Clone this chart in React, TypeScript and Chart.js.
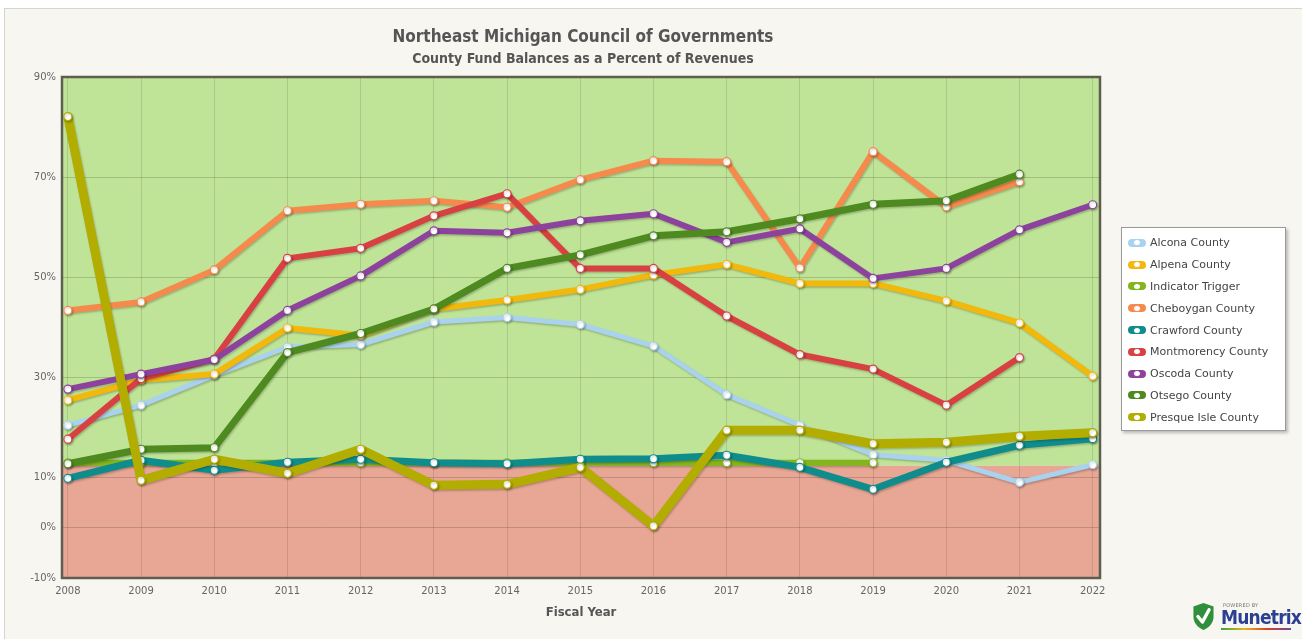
import React, { useEffect, useRef } from "react";
import { Chart, registerables } from "chart.js";

Chart.register(...registerables);

// ---------- data ----------
const years = [2008, 2009, 2010, 2011, 2012, 2013, 2014, 2015, 2016, 2017, 2018, 2019, 2020, 2021, 2022];
const yTickValues = [-10, 0, 10, 30, 50, 70, 90];
const triggerThreshold = 12.4;

const alcona = [20.5, 24.5, 30.5, 36.1, 36.6, 41.1, 42.0, 40.6, 36.3, 26.6, 20.5, 14.6, 13.5, 9.1, 12.6];
const alpena = [25.5, 29.5, 30.7, 39.9, 38.4, 43.7, 45.5, 47.6, 50.5, 52.6, 48.8, 48.8, 45.3, 40.9, 30.3];
const indicatorTrigger = [13, 13, 13, 13, 13, 13, 13, 13, 13, 13, 13, 13, null, null, null];
const cheboygan = [43.4, 45.1, 51.5, 63.3, 64.6, 65.3, 64.0, 69.5, 73.3, 73.1, 51.9, 75.1, 64.1, 69.1, null];
const crawford = [9.9, 13.5, 11.5, 13.1, 13.7, 13.0, 12.8, 13.7, 13.8, 14.5, 12.1, 7.7, 13.1, 16.5, 17.8];
const montmorency = [17.7, 29.8, 33.7, 53.8, 55.8, 62.3, 66.7, 51.8, 51.8, 42.3, 34.6, 31.7, 24.5, 34.0, null];
const oscoda = [27.7, 30.7, 33.6, 43.4, 50.3, 59.3, 58.9, 61.3, 62.7, 57.0, 59.7, 49.8, 51.8, 59.5, 64.5];
const otsego = [12.8, 15.7, 16.0, 35.0, 38.8, 43.7, 51.8, 54.5, 58.3, 59.1, 61.7, 64.6, 65.3, 70.6, null];
const presqueIsle = [82.1, 9.5, 13.7, 10.9, 15.7, 8.5, 8.7, 12.1, 0.4, 19.5, 19.5, 16.8, 17.1, 18.3, 19.0];

const titleText = "Northeast Michigan Council of Governments";
const subtitleText = "County Fund Balances as a Percent of Revenues";
const xAxisTitle = "Fiscal Year";

// ---------- styles ----------
const SERIES = [
  { label: "Alcona County", data: alcona, color: "#a9d2ef", width: 5 },
  { label: "Alpena County", data: alpena, color: "#f2b80c", width: 6 },
  { label: "Indicator Trigger", data: indicatorTrigger, color: "#83b51c", width: 6 },
  { label: "Cheboygan County", data: cheboygan, color: "#f68a4c", width: 6 },
  { label: "Crawford County", data: crawford, color: "#0f8d8d", width: 7 },
  { label: "Montmorency County", data: montmorency, color: "#d84042", width: 6 },
  { label: "Oscoda County", data: oscoda, color: "#8d439e", width: 6 },
  { label: "Otsego County", data: otsego, color: "#4e8a1f", width: 7 },
  { label: "Presque Isle County", data: presqueIsle, color: "#b2ad00", width: 9 },
];

const NARROW = "'Liberation Sans Narrow', 'DejaVu Sans Condensed', 'Roboto', sans-serif";
const SANS = "'DejaVu Sans', Verdana, sans-serif";

const bandsPlugin = {
  id: "bands",
  beforeDraw(chart: any) {
    const { ctx, chartArea, scales } = chart;
    const { left, right, top, bottom } = chartArea;
    const yT = scales.y.getPixelForValue(triggerThreshold);
    ctx.save();
    ctx.fillStyle = "#bfe497";
    ctx.fillRect(left, top, right - left, yT - top);
    ctx.fillStyle = "#e8a694";
    ctx.fillRect(left, yT, right - left, bottom - yT);
    ctx.restore();
  },
  beforeDatasetsDraw(chart: any) {
    const { ctx, chartArea } = chart;
    const { left, right, top, bottom } = chartArea;
    ctx.save();
    ctx.strokeStyle = "#5d5d52";
    ctx.lineWidth = 2.5;
    ctx.strokeRect(left, top, right - left, bottom - top);
    ctx.restore();
  },
  beforeDatasetDraw(chart: any) {
    const ctx = chart.ctx;
    ctx.save();
    ctx.shadowColor = "rgba(0,0,0,0.22)";
    ctx.shadowOffsetX = 1;
    ctx.shadowOffsetY = 1.5;
    ctx.shadowBlur = 2;
  },
  afterDatasetDraw(chart: any) {
    chart.ctx.restore();
  },
};

function ChartCanvas() {
  const ref = useRef<HTMLCanvasElement | null>(null);
  useEffect(() => {
    if (!ref.current) return;
    const n = SERIES.length;
    const chart = new Chart(ref.current, {
      type: "line",
      data: {
        datasets: SERIES.map((s, i) => ({
          label: s.label,
          data: years.map((yr, j) => ({ x: yr, y: s.data[j] })),
          borderColor: s.color,
          backgroundColor: s.color,
          borderWidth: s.width,
          borderCapStyle: "round",
          borderJoinStyle: "round",
          tension: 0,
          pointRadius: 4,
          pointBackgroundColor: "#ffffff",
          pointBorderColor: s.color,
          pointBorderWidth: 1.2,
          fill: false,
          order: n - 1 - i,
        })),
      },
      options: {
        animation: false,
        responsive: false,
        devicePixelRatio: 1,
        layout: { padding: { top: 77, right: 202, bottom: 0, left: 0 } },
        plugins: {
          legend: { display: false },
          tooltip: { enabled: false },
        },
        scales: {
          x: {
            type: "linear",
            min: 2007.92,
            max: 2022.1,
            afterBuildTicks: (axis: any) => {
              axis.ticks = years.map((v) => ({ value: v }));
            },
            afterFit: (s: any) => {
              s.height = 61;
            },
            ticks: {
              autoSkip: false,
              maxRotation: 0,
              padding: 7,
              color: "#666",
              font: { family: SANS, size: 10 },
              callback: (v: any) => String(v),
            },
            grid: { color: "rgba(40,40,20,0.14)", drawTicks: false, lineWidth: 1 },
            border: { display: false },
            title: {
              display: true,
              text: xAxisTitle,
              color: "#555",
              font: { family: NARROW, size: 13, weight: "bold" },
              padding: { top: 0, bottom: 19 },
            },
          },
          y: {
            type: "linear",
            min: -10,
            max: 90,
            afterBuildTicks: (axis: any) => {
              axis.ticks = yTickValues.map((v) => ({ value: v }));
            },
            afterFit: (s: any) => {
              s.width = 62;
            },
            ticks: {
              padding: 6,
              color: "#666",
              font: { family: SANS, size: 10 },
              callback: (v: any) => v + "%",
            },
            grid: { color: "rgba(40,40,20,0.2)", drawTicks: false, lineWidth: 1 },
            border: { display: false },
          },
        },
      },
      plugins: [bandsPlugin],
    } as any);
    return () => chart.destroy();
  }, []);
  return (
    <canvas
      ref={ref}
      width={1302}
      height={639}
      style={{ position: "absolute", left: 0, top: 0, width: 1302, height: 639 }}
    />
  );
}

function LegendSymbol({ color }: { color: string }) {
  return (
    <span
      style={{
        position: "relative",
        display: "inline-block",
        width: 18,
        height: 8,
        borderRadius: 4,
        background: color,
        marginRight: 4,
        flex: "0 0 auto",
      }}
    >
      <span
        style={{
          position: "absolute",
          left: 5,
          top: 0.5,
          width: 6,
          height: 5,
          borderRadius: "50%",
          background: "#fff",
          border: `1px solid ${color}`,
        }}
      />
    </span>
  );
}

function Logo() {
  return (
    <div style={{ position: "absolute", left: 1192, top: 598, width: 110, height: 36, display: "flex", alignItems: "center" }}>
      <svg width="23" height="29" viewBox="0 0 20 26" style={{ flex: "0 0 auto" }}>
        <path d="M10 1 L19 4 L19 13 C19 19 15 23 10 25 C5 23 1 19 1 13 L1 4 Z" fill="#2f8f3a" />
        <path d="M5 13 L9 18 L15 7" stroke="#fff" strokeWidth="3" fill="none" strokeLinecap="round" strokeLinejoin="round" />
      </svg>
      <div style={{ marginLeft: 6, display: "flex", flexDirection: "column", lineHeight: 1, flex: "0 0 auto" }}>
        <span style={{ fontFamily: SANS, fontSize: 5, color: "#777", letterSpacing: 0.2, marginLeft: 2 }}>POWERED BY</span>
        <span style={{ fontFamily: NARROW, fontWeight: "bold", fontSize: 19, color: "#2b3f93", letterSpacing: -0.8 }}>Munetrix</span>
        <span style={{ height: 2, width: 70, marginTop: 1, background: "linear-gradient(90deg,#3aa34a,#e9b21b,#d8402f,#6a4aa0)" }} />
      </div>
    </div>
  );
}

export default function App() {
  return (
    <div style={{ position: "absolute", left: 0, top: 0, width: 1302, height: 639, overflow: "hidden", background: "#ffffff" }}>
      <div
        style={{
          position: "absolute",
          left: 4,
          top: 8,
          width: 1300,
          height: 660,
          background: "#f7f6f0",
          border: "1px solid #d4d4d0",
          boxSizing: "border-box",
        }}
      />
      <ChartCanvas />
      <div
        style={{
          position: "absolute",
          left: 0,
          width: 1166,
          top: 26,
          textAlign: "center",
          fontFamily: NARROW,
          fontWeight: "bold",
          fontSize: 17,
          color: "#555",
          lineHeight: "20px",
        }}
      >
        {titleText}
      </div>
      <div
        style={{
          position: "absolute",
          left: 0,
          width: 1166,
          top: 49,
          textAlign: "center",
          fontFamily: NARROW,
          fontWeight: "bold",
          fontSize: 14,
          color: "#555",
          lineHeight: "18px",
        }}
      >
        {subtitleText}
      </div>
      <div
        style={{
          position: "absolute",
          left: 1121,
          top: 227,
          width: 165,
          height: 204,
          background: "#fff",
          border: "1px solid #9a9a9a",
          boxShadow: "2px 2px 3px rgba(0,0,0,0.25)",
          boxSizing: "border-box",
          padding: "4px 0 0 6px",
        }}
      >
        {SERIES.map((s) => (
          <div
            key={s.label}
            style={{
              height: 21.8,
              display: "flex",
              alignItems: "center",
              fontFamily: SANS,
              fontSize: 11,
              color: "#444",
              whiteSpace: "nowrap",
            }}
          >
            <LegendSymbol color={s.color} />
            {s.label}
          </div>
        ))}
      </div>
      <Logo />
    </div>
  );
}
